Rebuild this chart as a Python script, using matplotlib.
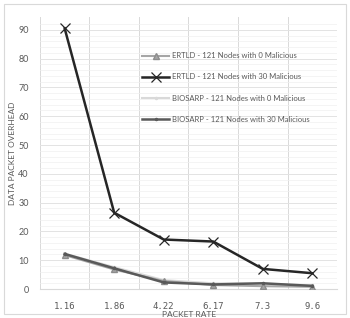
import matplotlib.pyplot as plt
import numpy as np

plt.rcParams['font.family'] = ['Lato', 'DejaVu Sans']

# data
rates = ['1.16', '1.86', '4.22', '6.17', '7.3', '9.6']
ertld_0 = [11.8, 6.8, 2.8, 1.4, 1.0, 0.8]
ertld_30 = [90.5, 26.5, 17.2, 16.5, 7.0, 5.5]
biosarp_0 = [12.3, 7.6, 3.1, 2.0, 1.9, 1.3]
biosarp_30 = [12.2, 7.2, 2.3, 1.6, 2.0, 1.1]

fig = plt.figure(figsize=(3.5, 3.18), dpi=100)
# outer chart border
fig.patches.append(plt.Rectangle((0.012, 0.012), 0.976, 0.976, transform=fig.transFigure,
                                 fill=False, ec='#d9d9d9', lw=0.8))
ax = fig.add_axes([0.114, 0.091, 0.849, 0.856])

x = np.arange(len(rates))
ax.plot(x, ertld_0, color='#a6a6a6', lw=1.5, marker='^', ms=4.5, mfc='#a6a6a6', mec='#8c8c8c',
        label='ERTLD - 121 Nodes with 0 Malicious', zorder=3)
ax.plot(x, ertld_30, color='#262626', lw=1.8, marker='x', ms=6.5, mew=0.9,
        label='ERTLD - 121 Nodes with 30 Malicious', zorder=4)
ax.plot(x, biosarp_0, color='#d9d9d9', lw=1.5, marker='.', ms=3,
        label='BIOSARP - 121 Nodes with 0 Malicious', zorder=2)
ax.plot(x, biosarp_30, color='#595959', lw=1.8, marker='.', ms=3,
        label='BIOSARP - 121 Nodes with 30 Malicious', zorder=3)

ax.set_xlim(-0.5, len(rates) - 0.5)
ax.set_ylim(0, 94.5)
ax.set_yticks(np.arange(0, 91, 10))
ax.set_yticks(np.arange(0, 94, 2), minor=True)
ax.set_xticks(x)
ax.set_xticklabels(rates, family='DejaVu Sans Mono', fontsize=6.5, color='#595959')
ax.set_xticks(np.arange(-0.5, len(rates), 1), minor=True)
ax.tick_params(axis='y', labelsize=6.5, colors='#595959', length=0, pad=8)
ax.tick_params(axis='x', length=0, pad=9)
ax.tick_params(which='minor', length=0)

ax.grid(axis='y', which='major', color='#e3e3e3', lw=0.7)
ax.grid(axis='y', which='minor', color='#f0f0f0', lw=0.5)
ax.grid(axis='x', which='minor', color='#d9d9d9', lw=0.7)
ax.set_axisbelow(True)
for s in ['top', 'right', 'left']:
    ax.spines[s].set_visible(False)
ax.spines['bottom'].set_color('#d9d9d9')

fig.text(0.54, 0.011, 'PACKET RATE', fontsize=6, color='#595959', ha='center', va='center')
ax.set_ylabel('DATA PACKET OVERHEAD', fontsize=6, color='#595959', labelpad=2)

leg = ax.legend(loc='upper left', bbox_to_anchor=(0.32, 0.895), frameon=False, fontsize=5.5,
                labelspacing=1.85, handlelength=3.6, handletextpad=0.4)
for t in leg.get_texts():
    t.set_color('#595959')

fig.savefig('out.png', dpi=100)
